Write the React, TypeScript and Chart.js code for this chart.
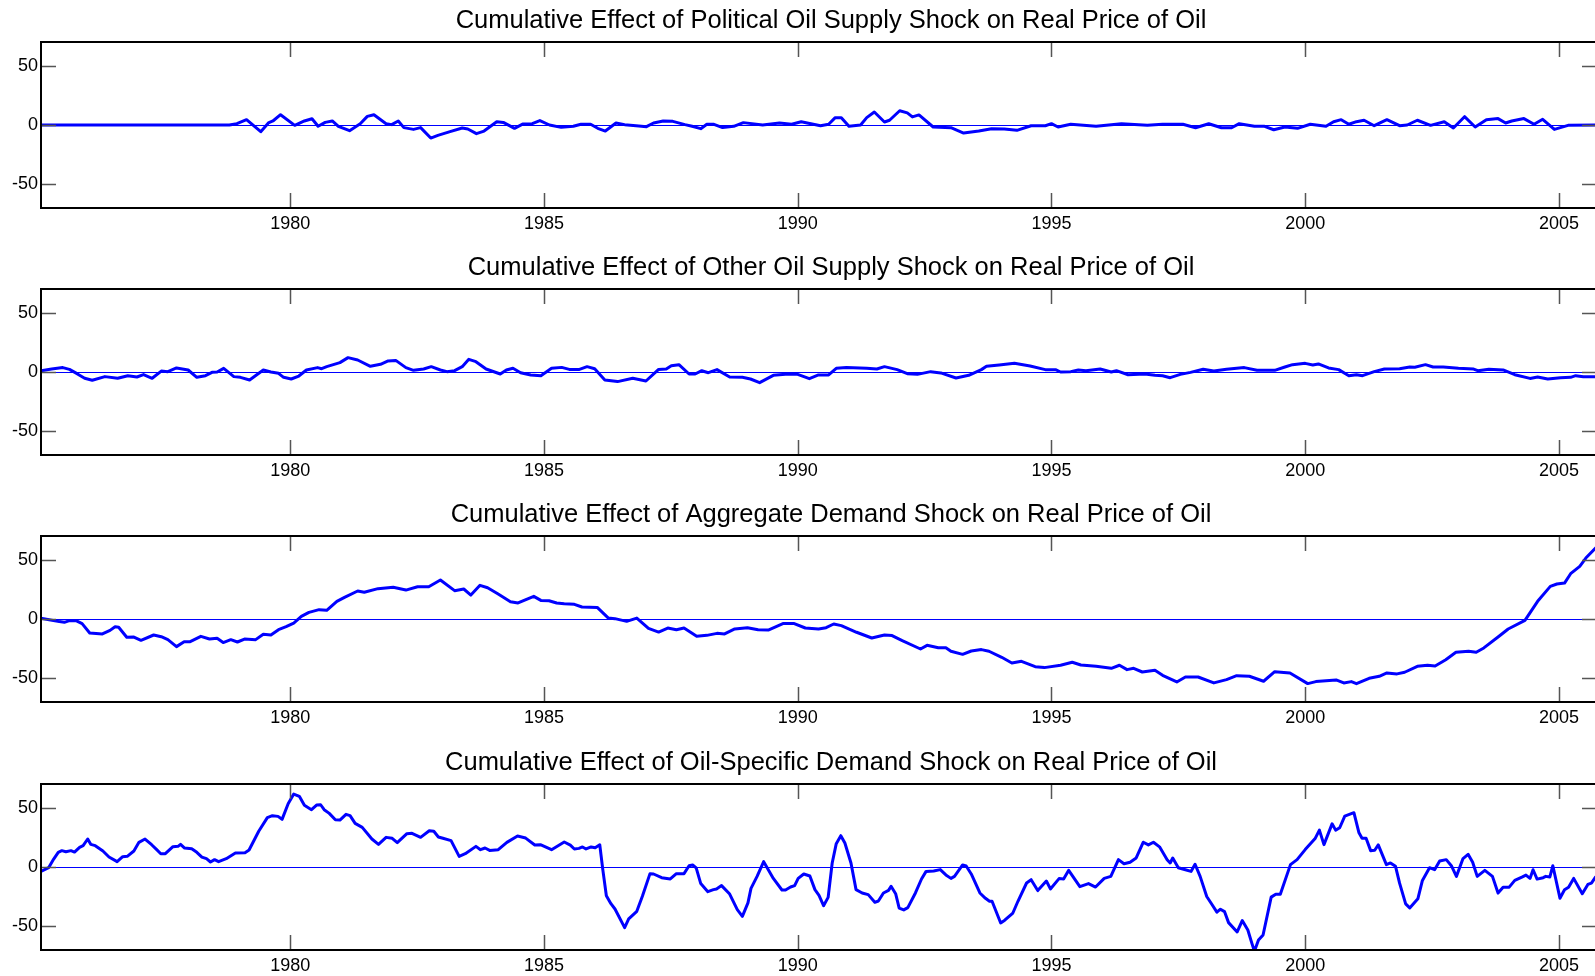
import { useEffect, useRef } from "react";
import { Chart, registerables } from "chart.js";

Chart.register(...registerables);

// Time axis (decimal years) and value axis settings
const xMin = 1975.09;
const xMax = 2005.75;
const yMin = -70;
const yMax = 70;
const yearTicks = [1980, 1985, 1990, 1995, 2000, 2005];
const valueTicks = [-50, 0, 50];

const titles = [
  "Cumulative Effect of Political Oil Supply Shock on Real Price of Oil",
  "Cumulative Effect of Other Oil Supply Shock on Real Price of Oil",
  "Cumulative Effect of Aggregate Demand Shock on Real Price of Oil",
  "Cumulative Effect of Oil-Specific Demand Shock on Real Price of Oil",
];

// Political oil supply shock
const politicalYears = [
  1975.09, 1978.8, 1978.95, 1979.14, 1979.42, 1979.57, 1979.66, 1979.81, 1980.09, 1980.28,
  1980.43, 1980.55, 1980.69, 1980.83, 1980.95, 1981.17, 1981.38, 1981.52, 1981.65, 1981.89,
  1982.0, 1982.13, 1982.24, 1982.43, 1982.57, 1982.77, 1982.91, 1983.15, 1983.39, 1983.5,
  1983.67, 1983.82, 1984.07, 1984.2, 1984.42, 1984.58, 1984.77, 1984.92, 1985.11, 1985.34,
  1985.58, 1985.73, 1985.92, 1986.06, 1986.21, 1986.42, 1986.59, 1986.87, 1987.02, 1987.16,
  1987.35, 1987.54, 1987.78, 1987.92, 1988.09, 1988.21, 1988.35, 1988.52, 1988.74, 1988.93,
  1989.31, 1989.64, 1989.88, 1990.07, 1990.45, 1990.61, 1990.74, 1990.86, 1991.01, 1991.24,
  1991.36, 1991.51, 1991.71, 1991.81, 1992.01, 1992.16, 1992.26, 1992.39, 1992.67, 1993.02,
  1993.27, 1993.57, 1993.82, 1994.07, 1994.32, 1994.6, 1994.88, 1995.0, 1995.13, 1995.38,
  1995.88, 1996.38, 1996.89, 1997.19, 1997.59, 1997.84, 1998.1, 1998.35, 1998.55, 1998.7,
  1999.0, 1999.2, 1999.38, 1999.6, 1999.85, 2000.1, 2000.41, 2000.56, 2000.71, 2000.86,
  2001.01, 2001.16, 2001.36, 2001.61, 2001.86, 2002.01, 2002.21, 2002.47, 2002.74, 2002.92,
  2003.14, 2003.35, 2003.57, 2003.8, 2003.95, 2004.07, 2004.31, 2004.51, 2004.68, 2004.91,
  2005.18, 2005.75,
];
const politicalValues = [
  0, 0, 1.1, 4.5, -5.6, 1.7, 3.4, 8.7, -0.3, 3.4,
  5.3, -1.1, 2.2, 3.4, -1.1, -4.8, 1.1, 7.3, 8.7, 1.1,
  0.3, 3.4, -2.2, -3.7, -2.2, -11, -8.7, -5.6, -2.5, -3.4,
  -7.3, -5.1, 2.8, 2.2, -2.8, 0.8, 1.1, 3.7, 0, -2,
  -1.1, 0.6, 0.6, -2.8, -5.1, 1.7, 0.3, -0.8, -1.4, 1.7,
  3.4, 3.1, 0.3, -1.1, -3.1, 0.6, 0.6, -2.2, -1.1, 2,
  0, 1.7, 0.6, 2.8, -0.6, 0.6, 6.2, 6.2, -1.1, 0,
  6.2, 11, 2.5, 4, 12, 10.2, 6.8, 8.5, -1.7, -2.3,
  -6.8, -5.1, -3.1, -3.4, -4.5, -0.6, -0.6, 1.1, -1.7, 0.6,
  -1.1, 1.1, -0.3, 0.6, 0.6, -2.3, 1.1, -2.3, -2.3, 1.1,
  -1.1, -1.1, -4, -1.7, -2.8, 0.6, -1.1, 2.8, 4.5, 0.6,
  2.8, 4, -0.6, 4.5, -0.6, 0, 4, -0.3, 2.8, -2.5,
  7, -1.7, 4.5, 5.4, 1.7, 3.4, 5.4, 0.6, 4.8, -3.7,
  -0.3, 0,
];

// Other oil supply shock
const otherSupplyYears = [
  1975.09, 1975.3, 1975.52, 1975.65, 1975.8, 1975.95, 1976.1, 1976.35, 1976.6, 1976.8,
  1976.98, 1977.11, 1977.28, 1977.46, 1977.59, 1977.76, 1977.99, 1978.16, 1978.33, 1978.46,
  1978.56, 1978.69, 1978.89, 1979.02, 1979.2, 1979.47, 1979.62, 1979.77, 1979.87, 1980.02,
  1980.17, 1980.32, 1980.54, 1980.62, 1980.72, 1980.98, 1981.14, 1981.33, 1981.58, 1981.78,
  1981.93, 1982.08, 1982.28, 1982.43, 1982.63, 1982.78, 1982.96, 1983.09, 1983.24, 1983.39,
  1983.52, 1983.66, 1983.86, 1984.14, 1984.26, 1984.39, 1984.54, 1984.74, 1984.94, 1985.15,
  1985.35, 1985.5, 1985.7, 1985.85, 1986.0, 1986.2, 1986.45, 1986.75, 1987.01, 1987.26,
  1987.41, 1987.51, 1987.66, 1987.86, 1987.98, 1988.11, 1988.24, 1988.41, 1988.66, 1988.91,
  1989.07, 1989.25, 1989.52, 1989.82, 1990.0, 1990.23, 1990.41, 1990.61, 1990.76, 1990.96,
  1991.36, 1991.56, 1991.71, 1991.96, 1992.16, 1992.36, 1992.62, 1992.82, 1993.12, 1993.37,
  1993.62, 1993.72, 1993.97, 1994.27, 1994.58, 1994.88, 1995.08, 1995.18, 1995.38, 1995.53,
  1995.68, 1995.96, 1996.18, 1996.28, 1996.51, 1996.84, 1997.04, 1997.19, 1997.34, 1997.54,
  1997.74, 1997.99, 1998.2, 1998.45, 1998.8, 1999.05, 1999.4, 1999.6, 1999.75, 2000.0,
  2000.15, 2000.26, 2000.46, 2000.66, 2000.86, 2001.01, 2001.13, 2001.36, 2001.56, 2001.86,
  2002.06, 2002.16, 2002.37, 2002.52, 2002.72, 2003.02, 2003.32, 2003.4, 2003.62, 2003.9,
  2004.13, 2004.43, 2004.58, 2004.78, 2005.03, 2005.23, 2005.33, 2005.48, 2005.75,
];
const otherSupplyValues = [
  1.1, 2.5, 3.7, 2.2, -1.4, -5.3, -7, -3.9, -5.3, -3.1,
  -4.2, -2.2, -5.3, 0.8, 0.3, 3.4, 1.7, -4.5, -3.1, -0.3,
  0, 3.1, -3.9, -4.5, -6.7, 1.7, 0, -1.1, -4.5, -5.9,
  -3.4, 1.7, 3.7, 2.8, 4.5, 7.9, 12.1, 10.1, 4.8, 6.5,
  9.3, 9.8, 3.7, 1.4, 2.5, 4.5, 1.7, 0.3, 1.1, 4.5,
  10.7, 8.7, 2.5, -1.7, 1.7, 3.1, -0.6, -2.5, -3.1, 3.1,
  3.9, 2.2, 2.2, 4.5, 2.8, -6.7, -8.1, -5.3, -7.6, 2.2,
  2.5, 5.3, 6.2, -1.7, -1.7, 1.1, -0.6, 2, -4.2, -4.5,
  -5.9, -9, -2.8, -1.7, -2, -5.6, -2.5, -2.5, 3.1, 3.7,
  3.1, 2.5, 4.5, 2, -1.4, -2, 0.3, -0.8, -5.1, -2.8,
  2, 4.8, 5.9, 7.3, 5.1, 2, 2, 0, 0.3, 1.7,
  1.1, 2.5, 0, 1.1, -2.3, -1.7, -2.8, -3.1, -4.8, -2,
  -0.3, 2.3, 0.8, 2.3, 3.7, 1.4, 1.4, 4.2, 6.2, 7.3,
  5.9, 6.8, 3.4, 2, -3.1, -2.3, -3.1, 0.3, 2.5, 2.8,
  4.2, 4, 6.2, 4.2, 4.2, 3.1, 2.5, 1.1, 2.3, 1.7,
  -2.3, -5.4, -4.2, -5.9, -4.8, -4.5, -3.1, -4, -4,
];

// Aggregate demand shock
const aggDemandYears = [
  1975.09, 1975.25, 1975.45, 1975.55, 1975.65, 1975.78, 1975.9, 1976.05, 1976.3, 1976.45,
  1976.55, 1976.62, 1976.78, 1976.92, 1977.06, 1977.31, 1977.46, 1977.59, 1977.76, 1977.91,
  1978.03, 1978.24, 1978.41, 1978.56, 1978.68, 1978.83, 1978.96, 1979.1, 1979.32, 1979.47,
  1979.62, 1979.77, 1979.92, 1980.07, 1980.22, 1980.37, 1980.57, 1980.72, 1980.92, 1981.08,
  1981.33, 1981.46, 1981.73, 1982.03, 1982.28, 1982.51, 1982.73, 1982.96, 1983.24, 1983.42,
  1983.56, 1983.74, 1983.89, 1984.09, 1984.34, 1984.49, 1984.8, 1984.94, 1985.1, 1985.25,
  1985.4, 1985.6, 1985.75, 1986.05, 1986.27, 1986.4, 1986.63, 1986.83, 1987.06, 1987.26,
  1987.44, 1987.61, 1987.76, 1988.01, 1988.21, 1988.41, 1988.56, 1988.76, 1989.01, 1989.22,
  1989.42, 1989.72, 1989.92, 1990.15, 1990.41, 1990.56, 1990.71, 1990.86, 1991.16, 1991.46,
  1991.71, 1991.86, 1992.06, 1992.42, 1992.55, 1992.77, 1992.92, 1993.02, 1993.25, 1993.42,
  1993.62, 1993.77, 1994.02, 1994.22, 1994.41, 1994.68, 1994.86, 1995.18, 1995.41, 1995.58,
  1995.88, 1996.18, 1996.34, 1996.49, 1996.62, 1996.79, 1997.04, 1997.19, 1997.47, 1997.64,
  1997.89, 1998.2, 1998.45, 1998.65, 1998.9, 1999.18, 1999.4, 1999.7, 2000.05, 2000.21,
  2000.41, 2000.61, 2000.76, 2000.91, 2001.01, 2001.26, 2001.46, 2001.61, 2001.81, 2001.96,
  2002.21, 2002.41, 2002.56, 2002.77, 2002.97, 2003.22, 2003.37, 2003.52, 2003.8, 2004.0,
  2004.33, 2004.58, 2004.83, 2004.96, 2005.11, 2005.23, 2005.41, 2005.53, 2005.75,
];
const aggDemandValues = [
  0.6, -0.6, -2.2, -2.8, -1.4, -1.4, -3.9, -11.8, -12.6, -9.6,
  -6.5, -7, -15.4, -15.2, -18, -13.5, -14.9, -17.4, -23.3, -19.1,
  -19.1, -14.6, -16.9, -16.3, -19.9, -17.4, -19.4, -16.9, -17.4, -12.9,
  -13.5, -9, -6.5, -3.4, 2.2, 5.6, 7.9, 7.3, 14.9, 18.5,
  23.6, 22.5, 25.6, 26.7, 24.4, 27.2, 27.2, 32.9, 23.9, 25.3,
  20.2, 28.4, 26.4, 21.3, 14.6, 13.5, 19.1, 15.7, 15.4, 13.5,
  12.9, 12.4, 10.1, 9.8, 0.8, 0.3, -2, 0.8, -7.9, -11,
  -7.6, -9, -7.6, -14.6, -13.8, -12.1, -12.6, -8.4, -7.3, -9,
  -9.3, -3.7, -3.7, -7.6, -8.4, -7.3, -4.2, -5.6, -11.2, -16,
  -13.5, -14, -18.3, -25.3, -22.2, -24.2, -24.2, -27.2, -29.8, -27,
  -25.8, -27.2, -32.3, -37.1, -35.7, -40.2, -41, -39, -36.5, -38.8,
  -39.9, -41.6, -39, -42.7, -41.6, -44.7, -43.3, -47.5, -53.1, -48.9,
  -48.9, -53.9, -51.1, -47.8, -48.3, -52.5, -44.4, -45.5, -54.5, -52.8,
  -52, -51.4, -53.9, -52.8, -54.5, -50, -48.3, -45.5, -46.3, -44.9,
  -39.9, -39, -39.6, -34.3, -28.1, -27.2, -28.1, -24.4, -15.2, -8.4,
  -1.1, 14.9, 27.5, 29.5, 30.3, 38.2, 44.4, 51.4, 61,
];

// Oil-specific demand shock
const oilSpecificYears = [
  1975.09, 1975.24, 1975.34, 1975.43, 1975.5, 1975.58, 1975.68, 1975.75, 1975.85, 1975.92,
  1976.01, 1976.07, 1976.16, 1976.31, 1976.43, 1976.59, 1976.7, 1976.79, 1976.92, 1977.02,
  1977.14, 1977.27, 1977.37, 1977.45, 1977.54, 1977.69, 1977.79, 1977.84, 1977.92, 1978.06,
  1978.16, 1978.26, 1978.35, 1978.43, 1978.51, 1978.59, 1978.74, 1978.92, 1979.11, 1979.19,
  1979.38, 1979.55, 1979.65, 1979.76, 1979.84, 1979.96, 1980.07, 1980.18, 1980.28, 1980.42,
  1980.52, 1980.6, 1980.67, 1980.77, 1980.89, 1980.98, 1981.1, 1981.18, 1981.28, 1981.42,
  1981.61, 1981.74, 1981.89, 1982.01, 1982.11, 1982.3, 1982.4, 1982.57, 1982.74, 1982.83,
  1982.92, 1983.01, 1983.17, 1983.33, 1983.45, 1983.66, 1983.75, 1983.84, 1983.93, 1984.1,
  1984.27, 1984.48, 1984.64, 1984.82, 1984.93, 1985.15, 1985.4, 1985.52, 1985.6, 1985.69,
  1985.76, 1985.83, 1985.93, 1986.01, 1986.1, 1986.16, 1986.23, 1986.32, 1986.4, 1986.59,
  1986.67, 1986.83, 1986.94, 1987.09, 1987.16, 1987.32, 1987.49, 1987.61, 1987.76, 1987.86,
  1987.93, 1988.0, 1988.09, 1988.23, 1988.34, 1988.4, 1988.5, 1988.66, 1988.81, 1988.91,
  1989.02, 1989.08, 1989.2, 1989.33, 1989.52, 1989.69, 1989.76, 1989.86, 1989.94, 1990.01,
  1990.12, 1990.24, 1990.34, 1990.42, 1990.51, 1990.6, 1990.68, 1990.76, 1990.85, 1990.93,
  1991.05, 1991.15, 1991.27, 1991.39, 1991.52, 1991.59, 1991.69, 1991.79, 1991.84, 1991.93,
  1992.0, 1992.09, 1992.17, 1992.32, 1992.44, 1992.53, 1992.68, 1992.81, 1992.92, 1993.02,
  1993.09, 1993.25, 1993.32, 1993.42, 1993.59, 1993.7, 1993.78, 1993.83, 1994.0, 1994.08,
  1994.24, 1994.34, 1994.51, 1994.6, 1994.73, 1994.9, 1994.98, 1995.15, 1995.24, 1995.34,
  1995.56, 1995.73, 1995.87, 1996.04, 1996.17, 1996.32, 1996.43, 1996.55, 1996.67, 1996.81,
  1996.91, 1997.01, 1997.13, 1997.28, 1997.34, 1997.39, 1997.5, 1997.64, 1997.75, 1997.83,
  1997.93, 1998.06, 1998.16, 1998.26, 1998.33, 1998.41, 1998.49, 1998.66, 1998.76, 1998.87,
  1998.95, 1999.0, 1999.08, 1999.17, 1999.33, 1999.42, 1999.51, 1999.71, 1999.84, 2000.0,
  2000.2, 2000.28, 2000.37, 2000.53, 2000.6, 2000.68, 2000.78, 2000.96, 2001.06, 2001.12,
  2001.2, 2001.29, 2001.37, 2001.44, 2001.6, 2001.68, 2001.78, 2001.86, 2001.98, 2002.06,
  2002.22, 2002.31, 2002.45, 2002.55, 2002.65, 2002.78, 2002.88, 2002.98, 2003.11, 2003.21,
  2003.3, 2003.39, 2003.54, 2003.69, 2003.8, 2003.9, 2004.02, 2004.13, 2004.27, 2004.35,
  2004.43, 2004.49, 2004.57, 2004.69, 2004.74, 2004.82, 2004.88, 2005.02, 2005.11, 2005.19,
  2005.29, 2005.46, 2005.57, 2005.64, 2005.72, 2005.75,
];
const oilSpecificValues = [
  -3.7, -0.6, 6.7, 12.4, 13.8, 12.9, 13.8, 12.6, 16.6, 18,
  23.6, 19.1, 18, 13.5, 8.4, 4.5, 8.7, 9, 13.5, 20.8,
  23.6, 18.8, 14.6, 11.2, 11.2, 17.1, 17.4, 19.1, 16, 15.4,
  12.4, 8.4, 7, 4.2, 6.2, 4.5, 7, 11.8, 12.1, 14.3,
  30.1, 41.6, 43.3, 42.7, 40.2, 53.4, 61.5, 59.6, 52, 48.3,
  52.2, 52.5, 48.3, 45.2, 39.9, 39.6, 44.4, 43.3, 36.8, 33.4,
  23.6, 19.1, 25, 24.2, 20.5, 28.1, 28.4, 25, 30.6, 30.1,
  25.3, 24.2, 22.2, 9, 11.2, 17.4, 14.6, 16, 14, 14.6,
  20.8, 26.1, 24.4, 18.5, 18.8, 14.6, 21.1, 18.5, 15.2, 15.7,
  16.9, 15.2, 16.9, 16.3, 18.8, -2.2, -24.2, -30.9, -35.4, -51.1,
  -43.8, -37.4, -24.7, -5.6, -5.9, -9, -10.1, -5.6, -5.6, 1.1,
  1.7, -0.8, -14, -20.8, -19.1, -18.5, -15.7, -22.8, -36, -41.6,
  -30.3, -18, -7.9, 4.5, -9.6, -19.4, -19.4, -16.9, -15.7, -9.6,
  -5.9, -7.6, -19.1, -23.9, -32.6, -25.6, 3.4, 19.7, 26.4, 20.2,
  3.4, -19.1, -21.9, -23.3, -29.8, -28.7, -21.9, -19.7, -16.3, -22.5,
  -34.6, -36.2, -34.3, -21.9, -10.1, -3.7, -3.4, -2.2, -6.7, -9.6,
  -7.9, 1.7, 0.8, -5.9, -21.9, -26.4, -28.9, -28.9, -47.2, -44.9,
  -38.8, -28.9, -13.5, -10.7, -19.9, -11.8, -18.5, -9.8, -10.1, -2.8,
  -16.6, -14, -16.9, -9.6, -7.9, 6.2, 2.8, 4, 7.6, 20.9,
  18.6, 20.9, 17, 6.2, 3.4, 7.6, -0.6, -2.3, -3.7, 2.3,
  -7.9, -24.9, -31.4, -38.1, -35.6, -37.6, -46.9, -54.8, -45.2, -53.1,
  -64.4, -71, -61.6, -57.3, -25.4, -22.9, -22.9, 2, 6.2, 14.7,
  24.3, 31.1, 18.9, 36.4, 31.1, 33.1, 42.9, 45.8, 28.8, 24.3,
  24.3, 13.8, 14.1, 18.6, 2, 3.4, 0.6, -13.6, -31.1, -34.5,
  -26.8, -11.3, -0.6, -2.3, 5.1, 6.2, 1.1, -7.9, 7.1, 10.7,
  4, -7.9, -2.8, -7.9, -22, -17, -17, -11.3, -8.5, -6.8,
  -9.6, -2.3, -10.2, -9, -7.9, -8.5, 1.1, -26.3, -19.2, -17,
  -9.6, -22.6, -14.7, -13.6, -8.5, -10,
];

const panels = [
  { title: titles[0], years: politicalYears, values: politicalValues },
  { title: titles[1], years: otherSupplyYears, values: otherSupplyValues },
  { title: titles[2], years: aggDemandYears, values: aggDemandValues },
  { title: titles[3], years: oilSpecificYears, values: oilSpecificValues },
];

const FONT = '"Liberation Sans", Arial, Helvetica, sans-serif';
const LINE_BLUE = "#0000ff";
const CANVAS_W = 1600;
const CANVAS_H = 247;
const PANEL_TOPS = [0, 247, 494, 742];
const TICK_LEN = 15;

// Crisp zero reference line, drawn beneath the series
const zeroLinePlugin = {
  id: "zeroLine",
  beforeDatasetsDraw(chart: any) {
    const { ctx, chartArea: a, scales } = chart;
    const py = Math.round(scales.y.getPixelForValue(0)) + 0.5;
    ctx.save();
    ctx.strokeStyle = LINE_BLUE;
    ctx.lineWidth = 1;
    ctx.beginPath();
    ctx.moveTo(a.left, py);
    ctx.lineTo(a.right, py);
    ctx.stroke();
    ctx.restore();
  },
};

// Boxed axes with inward tick marks on all four sides, plus the panel title
const boxAxesPlugin = {
  id: "boxAxes",
  afterDraw(chart: any, _args: any, opts: any) {
    const { ctx, chartArea: a, scales } = chart;
    const xs = scales.x;
    const ys = scales.y;
    ctx.save();
    ctx.strokeStyle = "#555555";
    ctx.lineWidth = 1.5;
    ctx.beginPath();
    for (const v of yearTicks) {
      const px = Math.round(xs.getPixelForValue(v)) + 0.5;
      ctx.moveTo(px, a.top);
      ctx.lineTo(px, a.top + TICK_LEN);
      ctx.moveTo(px, a.bottom);
      ctx.lineTo(px, a.bottom - TICK_LEN);
    }
    for (const v of valueTicks) {
      const py = Math.round(ys.getPixelForValue(v)) + 0.5;
      ctx.moveTo(a.left, py);
      ctx.lineTo(a.left + TICK_LEN, py);
      ctx.moveTo(a.right, py);
      ctx.lineTo(a.right - TICK_LEN, py);
    }
    ctx.stroke();

    ctx.strokeStyle = "#000000";
    ctx.lineWidth = 2;
    ctx.strokeRect(a.left, a.top, a.right - a.left, a.bottom - a.top);

    ctx.fillStyle = "#000000";
    ctx.font = `25.5px ${FONT}`;
    ctx.textAlign = "center";
    ctx.textBaseline = "middle";
    ctx.fillText(opts.title, 831, a.top - 21);
    ctx.restore();
  },
};

function Panel({ title, years, values, top }: { title: string; years: number[]; values: number[]; top: number }) {
  const ref = useRef<HTMLCanvasElement | null>(null);

  useEffect(() => {
    if (!ref.current) return;
    const series = years.map((x, i) => ({ x, y: values[i] }));
    const chart = new Chart(ref.current, {
      type: "line",
      data: {
        datasets: [
          {
            data: series,
            borderColor: LINE_BLUE,
            borderWidth: 3,
            pointRadius: 0,
            tension: 0,
            borderJoinStyle: "round",
            borderCapStyle: "round",
          },
        ],
      },
      options: {
        animation: false,
        responsive: false,
        devicePixelRatio: 1,
        layout: { padding: { top: 42, right: 3, left: 0, bottom: 0 } },
        plugins: {
          legend: { display: false },
          tooltip: { enabled: false },
          boxAxes: { title },
        } as any,
        scales: {
          x: {
            type: "linear",
            min: xMin,
            max: xMax,
            afterBuildTicks: (s: any) => {
              s.ticks = yearTicks.map((v) => ({ value: v }));
            },
            afterFit: (s: any) => {
              s.height = 39;
            },
            grid: { display: false, drawTicks: false },
            border: { display: false },
            ticks: {
              autoSkip: false,
              maxRotation: 0,
              padding: 5,
              color: "#000000",
              font: { family: FONT, size: 18 },
              callback: (v: any) => String(v),
            },
          },
          y: {
            type: "linear",
            min: yMin,
            max: yMax,
            afterBuildTicks: (s: any) => {
              s.ticks = valueTicks.map((v) => ({ value: v }));
            },
            afterFit: (s: any) => {
              s.width = 41;
            },
            grid: { display: false, drawTicks: false },
            border: { display: false },
            ticks: {
              padding: 3,
              color: "#000000",
              font: { family: FONT, size: 18 },
              callback: (v: any) => String(v),
            },
          },
        },
      },
      plugins: [zeroLinePlugin, boxAxesPlugin],
    });
    return () => chart.destroy();
  }, [title, years, values]);

  return (
    <canvas
      ref={ref}
      width={CANVAS_W}
      height={CANVAS_H}
      style={{ position: "absolute", left: 0, top, display: "block" }}
    />
  );
}

export default function App() {
  useEffect(() => {
    document.body.style.margin = "0";
    document.body.style.overflow = "hidden";
    document.body.style.background = "#ffffff";
  }, []);

  return (
    <div style={{ position: "relative", width: 1595, height: 976, overflow: "hidden", background: "#ffffff" }}>
      {panels.map((p, i) => (
        <Panel key={p.title} title={p.title} years={p.years} values={p.values} top={PANEL_TOPS[i]} />
      ))}
    </div>
  );
}
